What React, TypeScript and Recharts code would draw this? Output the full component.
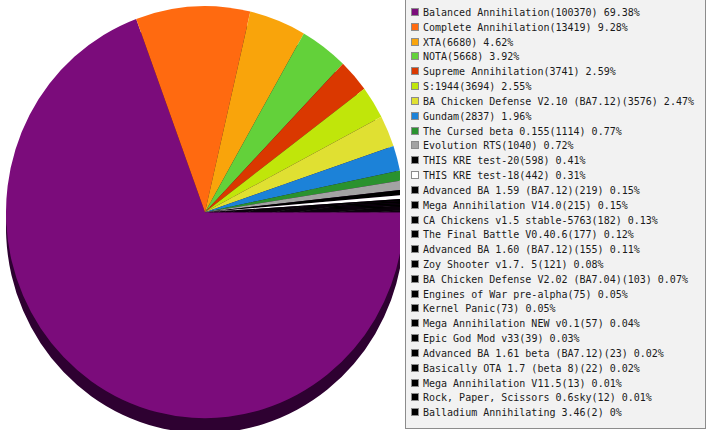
import React from "react";
import { PieChart, Pie, Cell } from "recharts";

const names = [
  "Balanced Annihilation",
  "Complete Annihilation",
  "XTA",
  "NOTA",
  "Supreme Annihilation",
  "S:1944",
  "BA Chicken Defense V2.10 (BA7.12)",
  "Gundam",
  "The Cursed beta 0.155",
  "Evolution RTS",
  "THIS KRE test-20",
  "THIS KRE test-18",
  "Advanced BA 1.59 (BA7.12)",
  "Mega Annihilation V14.0",
  "CA Chickens v1.5 stable-5763",
  "The Final Battle V0.40.6",
  "Advanced BA 1.60 (BA7.12)",
  "Zoy Shooter v1.7. 5",
  "BA Chicken Defense V2.02 (BA7.04)",
  "Engines of War pre-alpha",
  "Kernel Panic",
  "Mega Annihilation NEW v0.1",
  "Epic God Mod v33",
  "Advanced BA 1.61 beta (BA7.12)",
  "Basically OTA 1.7 (beta 8)",
  "Mega Annihilation V11.5",
  "Rock, Paper, Scissors 0.6sky",
  "Balladium Annihilating 3.46",
];

const values = [
  100370, 13419, 6680, 5668, 3741, 3694, 3576, 2837, 1114, 1040, 598, 442, 219,
  215, 182, 177, 155, 121, 103, 75, 73, 57, 39, 23, 22, 13, 12, 2,
];

const percents = [
  "69.38%", "9.28%", "4.62%", "3.92%", "2.59%", "2.55%", "2.47%", "1.96%",
  "0.77%", "0.72%", "0.41%", "0.31%", "0.15%", "0.15%", "0.13%", "0.12%",
  "0.11%", "0.08%", "0.07%", "0.05%", "0.05%", "0.04%", "0.03%", "0.02%",
  "0.02%", "0.01%", "0.01%", "0%",
];

const colors = [
  "#7b0c7b", "#ff6a10", "#f9a40b", "#63d13a", "#da3800", "#c0e60a", "#e0e032",
  "#1c82d8", "#2a922e", "#a3a3a3", "#000000", "#ffffff", "#000000", "#000000",
  "#000000", "#000000", "#000000", "#000000", "#000000", "#000000", "#000000",
  "#000000", "#000000", "#000000", "#000000", "#000000", "#000000", "#000000",
];

const shadowColor = "#2e0131";

const data = names.map((name, i) => ({ name, value: values[i] }));

export default function App() {
  return (
    <div
      style={{
        position: "fixed",
        left: 0,
        top: 0,
        width: 707,
        height: 430,
        background: "#ffffff",
        overflow: "hidden",
      }}
    >
      <div
        style={{
          position: "absolute",
          left: 0,
          top: 0,
          width: 400,
          height: 430,
          transform: "scaleY(1.035)",
          transformOrigin: "0 0",
        }}
      >
        <PieChart width={400} height={430}>
          <Pie
            data={data}
            dataKey="value"
            cx={200}
            cy={214.5}
            outerRadius={199}
            startAngle={0}
            endAngle={-360}
            stroke="none"
            isAnimationActive={false}
          >
            {data.map((d, i) => (
              <Cell key={"s" + i} fill={shadowColor} />
            ))}
          </Pie>
          <Pie
            data={data}
            dataKey="value"
            cx={200}
            cy={200}
            outerRadius={199}
            startAngle={0}
            endAngle={-360}
            stroke="none"
            isAnimationActive={false}
          >
            {data.map((d, i) => (
              <Cell key={"c" + i} fill={colors[i]} />
            ))}
          </Pie>
        </PieChart>
      </div>
      <div
        style={{
          position: "absolute",
          left: 405,
          top: -1,
          width: 301,
          height: 430,
          boxSizing: "border-box",
          border: "1px solid #8c8c8c",
          background: "#f2f2f2",
          paddingTop: 5,
          paddingLeft: 5,
          fontFamily: "'DejaVu Sans Mono', monospace",
          fontSize: 10,
          color: "#1a1a1a",
        }}
      >
        {names.map((n, i) => (
          <div
            key={n}
            style={{
              height: 14.83,
              display: "flex",
              alignItems: "center",
              whiteSpace: "nowrap",
            }}
          >
            <div
              style={{
                width: 8,
                height: 8,
                boxSizing: "border-box",
                border: "1px solid #8c8c8c",
                background: colors[i],
                marginRight: 4,
                marginTop: -1,
                flex: "none",
              }}
            />
            <span>
              {n}({values[i]}) {percents[i]}
            </span>
          </div>
        ))}
      </div>
    </div>
  );
}
